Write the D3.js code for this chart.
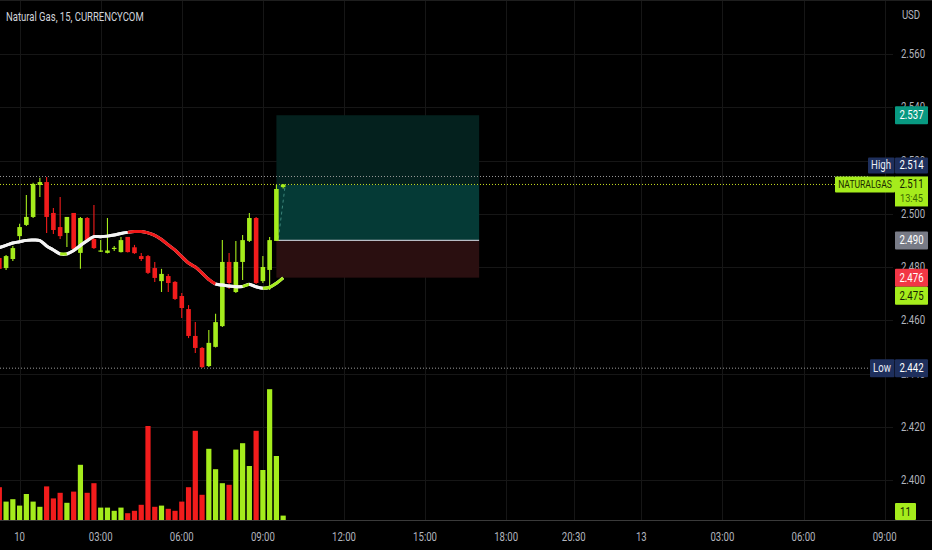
<!DOCTYPE html>
<html><head><meta charset="utf-8">
<script src="https://cdn.jsdelivr.net/npm/d3@7"></script>
<style>
html,body{margin:0;padding:0;background:#000;overflow:hidden;}
svg{display:block;}
text{font-family:Roboto,"Noto Sans",sans-serif;}
</style></head><body>
<svg id="c" width="932" height="550"></svg>
<script>
// ---------- DATA ----------
const title = "Natural Gas, 15, CURRENCYCOM";
const currency = "USD";
const firstIndex = -3; // bar index of first candle (0 = 10th 00:00)
const opens  = [2.4834,2.4796,2.4830,2.4916,2.4958,2.4988,2.5108,2.5119,2.5003,2.4950,2.4928,2.5003,2.4853,2.4984,2.4905,2.4860,2.4853,2.4870,2.4856,2.4913,2.4874,2.4841,2.4841,2.4796,2.4747,2.4766,2.4744,2.4691,2.4642,2.4541,2.4496,2.4428,2.4500,2.4578,2.4819,2.4706,2.4819,2.4898,2.4984,2.4747,2.4789,2.4898,2.5100];
const highs  = [2.4841,2.4845,2.4879,2.4962,2.5070,2.5116,2.5135,2.5138,2.5022,2.5063,2.4988,2.5003,2.4988,2.4988,2.5033,2.4901,2.4984,2.4879,2.4913,2.4913,2.4883,2.4853,2.4845,2.4819,2.4793,2.4774,2.4747,2.4702,2.4657,2.4593,2.4500,2.4563,2.4624,2.4901,2.4853,2.4898,2.4920,2.5003,2.4988,2.4841,2.4913,2.5108,2.5112];
const lows   = [2.4785,2.4789,2.4823,2.4901,2.4954,2.4984,2.5063,2.4928,2.4924,2.4905,2.4875,2.4868,2.4793,2.4894,2.4868,2.4856,2.4851,2.4860,2.4854,2.4854,2.4849,2.4823,2.4774,2.4744,2.4706,2.4706,2.4676,2.4608,2.4533,2.4477,2.4421,2.4424,2.4498,2.4575,2.4717,2.4702,2.4751,2.4894,2.4736,2.4740,2.4714,2.4898,2.5095];
const closes = [2.4793,2.4841,2.4871,2.4950,2.4988,2.5112,2.5119,2.4988,2.4939,2.4916,2.4988,2.4868,2.4984,2.4898,2.4871,2.4862,2.4862,2.4872,2.4901,2.4856,2.4852,2.4830,2.4778,2.4759,2.4774,2.4740,2.4680,2.4646,2.4541,2.4496,2.4424,2.4515,2.4593,2.4819,2.4740,2.4819,2.4901,2.4984,2.4740,2.4800,2.4901,2.5093,2.5110];
const volumes = [82,46,52,36,65,46,33,84,54,68,43,71,138,68,92,31,31,23,31,17,23,38,235,33,36,28,23,46,82,223,63,178,127,92,88,176,192,135,223,125,327,160,11];
const maValues = [2.4873,2.4881,2.4890,2.4895,2.4900,2.4901,2.4899,2.4879,2.4864,2.4849,2.4849,2.4862,2.4881,2.4899,2.4914,2.4914,2.4916,2.4920,2.4926,2.4930,2.4933,2.4933,2.4928,2.4919,2.4903,2.4883,2.4863,2.4839,2.4815,2.4800,2.4777,2.4753,2.4736,2.4732,2.4729,2.4726,2.4727,2.4735,2.4726,2.4720,2.4724,2.4739,2.4759];
// colour state of MA segment starting at each point: W white, G green, R red
const maStates = "WWWWWWWWWGWWWWWWWWWRRRRRRRRRRRRRWWWWGWWGGGG";
const timeTickIndex  = [0,12,24,36,48,60,72,82,92,104,116,128];
const timeTickLabels = ["10","03:00","06:00","09:00","12:00","15:00","18:00","20:30","13","03:00","06:00","09:00"];
const priceTicks = [2.40,2.42,2.44,2.46,2.48,2.50,2.52,2.54,2.56];
const symbolName = "NATURALGAS";
const lastPrice = 2.511, countdown = "13:45";
const highPrice = 2.514, lowPrice = 2.442;
const targetPrice = 2.537, entryPrice = 2.490, stopPrice = 2.476, maLast = 2.475;
const positionStartIndex = 38, positionEndIndex = 68;
const lastVolume = 11;

// ---------- STYLE ----------
const C = {
  bg:"#000000", grid:"#161616", text:"#b2b5be", up:"#a5ec1c", down:"#f21c1c",
  white:"#f4f4f4", teal:"#089981", navy:"#1e2f5c", gray:"#787b86", redLbl:"#f23645"
};
const W = 932, H = 550, plotRight = 893, plotBottom = 520;

const svg = d3.select("#c");
svg.append("rect").attr("width",W).attr("height",H).attr("fill",C.bg);

const x = d3.scaleLinear().domain([0,128]).range([19.6,884.6]);
const y = d3.scaleLinear().domain([2.40,2.56]).range([480,54]);
const yv = d3.scaleLinear().domain([0,1000]).range([plotBottom,120]);

const idx = opens.map((_,k)=>k+firstIndex);

// grid
const grid = svg.append("g");
grid.selectAll("line.h").data(priceTicks).join("line")
  .attr("x1",0).attr("x2",plotRight).attr("y1",d=>Math.round(y(d))+0.5).attr("y2",d=>Math.round(y(d))+0.5)
  .attr("stroke",C.grid);
grid.selectAll("line.v").data(timeTickIndex).join("line")
  .attr("y1",0).attr("y2",plotBottom).attr("x1",d=>Math.round(x(d))+0.5).attr("x2",d=>Math.round(x(d))+0.5)
  .attr("stroke",C.grid);
svg.append("line").attr("x1",0).attr("x2",W).attr("y1",0.5).attr("y2",0.5).attr("stroke","#1e1e1e");

// volume
const bw = 5.2;
svg.append("g").selectAll("rect").data(idx).join("rect")
  .attr("x",(d)=>x(d)-bw/2).attr("width",bw)
  .attr("y",(d,k)=>yv(volumes[k])).attr("height",(d,k)=>plotBottom-yv(volumes[k]))
  .attr("fill",(d,k)=>closes[k]>=opens[k]?C.up:C.down);

// position tool
const px0 = x(positionStartIndex), px1 = x(positionEndIndex);
svg.append("rect").attr("x",px0).attr("width",px1-px0).attr("y",y(targetPrice)).attr("height",y(lastPrice)-y(targetPrice)).attr("fill","#04211e");
svg.append("rect").attr("x",px0).attr("width",px1-px0).attr("y",y(lastPrice)).attr("height",y(entryPrice)-y(lastPrice)).attr("fill","#053a36");
svg.append("rect").attr("x",px0).attr("width",px1-px0).attr("y",y(entryPrice)).attr("height",y(stopPrice)-y(entryPrice)).attr("fill","#2a0f10");
svg.append("line").attr("x1",px0).attr("x2",px1).attr("y1",y(entryPrice)).attr("y2",y(entryPrice)).attr("stroke","#b8bcc4").attr("stroke-width",1.2);
svg.append("line").attr("x1",x(38)+2).attr("y1",y(entryPrice)-2).attr("x2",x(39)+2).attr("y2",y(lastPrice)+1)
  .attr("stroke","#5fb8a8").attr("stroke-width",1).attr("stroke-dasharray","3,3").attr("opacity",0.6);

// high / low / last dotted lines
svg.append("line").attr("x1",0).attr("x2",868).attr("y1",y(highPrice)).attr("y2",y(highPrice)).attr("stroke","#9a9a9a").attr("stroke-dasharray","1,2");
svg.append("line").attr("x1",0).attr("x2",868).attr("y1",y(lowPrice)).attr("y2",y(lowPrice)).attr("stroke","#9a9a9a").attr("stroke-dasharray","1,2");
svg.append("line").attr("x1",0).attr("x2",835).attr("y1",y(lastPrice)).attr("y2",y(lastPrice)).attr("stroke","#c8e020").attr("stroke-dasharray","1,2");

// candles
const cw = 4.6;
const cg = svg.append("g");
cg.selectAll("line").data(idx).join("line")
  .attr("x1",d=>x(d)).attr("x2",d=>x(d))
  .attr("y1",(d,k)=>y(highs[k])).attr("y2",(d,k)=>y(lows[k]))
  .attr("stroke",(d,k)=>closes[k]>=opens[k]?C.up:C.down).attr("stroke-width",1.1);
cg.selectAll("rect").data(idx).join("rect")
  .attr("x",d=>x(d)-cw/2).attr("width",cw)
  .attr("y",(d,k)=>y(Math.max(opens[k],closes[k])))
  .attr("height",(d,k)=>Math.max(1.2,Math.abs(y(opens[k])-y(closes[k]))))
  .attr("fill",(d,k)=>closes[k]>=opens[k]?C.up:C.down);

// moving average, coloured by state
const maPts = idx.map((d,k)=>[x(d),y(maValues[k])]);
const line = d3.line().curve(d3.curveCatmullRom);
const colorOf = {W:C.white,G:C.up,R:"#f01818"};
let runs = [], s = 0;
for (let k=1;k<maPts.length-1;k++){ if (maStates[k]!==maStates[s]){ runs.push([s,k,maStates[s]]); s=k; } }
runs.push([s,maPts.length-1,maStates[s]]);
svg.append("path").attr("d",line(maPts)).attr("fill","none").attr("stroke",C.white).attr("stroke-width",3);
runs.forEach(([a,b,st])=>{
  svg.append("path").attr("d",line(maPts.slice(a,b+1))).attr("fill","none")
    .attr("stroke",colorOf[st]).attr("stroke-width",3).attr("stroke-linecap","butt");
});

// bottom border
svg.append("line").attr("x1",0).attr("x2",W).attr("y1",plotBottom+0.5).attr("y2",plotBottom+0.5).attr("stroke","#3a3a3a");

// time axis
svg.append("g").selectAll("text").data(timeTickIndex).join("text")
  .attr("x",d=>x(d)).attr("y",541).attr("text-anchor","middle")
  .attr("fill",C.text).attr("font-size",12).text((d,k)=>timeTickLabels[k]);

// price axis ticks
svg.append("g").selectAll("text").data(priceTicks).join("text")
  .attr("x",913).attr("y",d=>y(d)+4).attr("text-anchor","middle")
  .attr("fill",C.text).attr("font-size",12).text(d=>d.toFixed(3));
svg.append("text").attr("x",911).attr("y",19).attr("text-anchor","middle").attr("fill",C.text).attr("font-size",12).text(currency);

// title
svg.append("text").attr("x",6).attr("y",21).attr("fill","#d1d4dc").attr("font-size",13).attr("data-f",0.73).text(title);

// right labels
function box(x0,x1,cy,h,bg){ svg.append("rect").attr("x",x0).attr("width",x1-x0).attr("y",cy-h/2).attr("height",h).attr("fill",bg).attr("rx",1); }
function txt(tx,ty,s,fill,size,anchor){ return svg.append("text").attr("x",tx).attr("y",ty).attr("fill",fill).attr("font-size",size||12).attr("text-anchor",anchor||"middle").text(s); }
const lx0 = 895, lx1 = 928, lc = 911.5;

let cy = y(targetPrice); box(lx0,lx1,cy,18,C.teal); txt(lc,cy+4,targetPrice.toFixed(3),"#fff");
cy = y(highPrice)-11; box(868,894.5,cy,16,C.navy); box(lx0,lx1,cy,16,C.navy);
txt(881,cy+4,"High","#e8ecf4"); txt(lc,cy+4,highPrice.toFixed(3),"#fff");
cy = y(lastPrice); box(835,895,cy,16,C.up); txt(865,cy+3.5,symbolName,"#1b2a00",11).attr("data-f",0.78);
svg.append("rect").attr("x",lx0).attr("width",lx1-lx0).attr("y",cy-8).attr("height",30).attr("fill",C.up);
txt(lc,cy+4,lastPrice.toFixed(3),"#142000"); txt(lc,cy+18,countdown,"#3d6a00",11.5);
cy = y(entryPrice); box(lx0,lx1,cy,18,C.gray); txt(lc,cy+4,entryPrice.toFixed(3),"#fff");
cy = y(stopPrice); box(lx0,lx1,cy,18,C.redLbl); txt(lc,cy+4,stopPrice.toFixed(3),"#fff");
cy = y(stopPrice)+18; box(lx0,lx1,cy,18,C.up); txt(lc,cy+4,maLast.toFixed(3),"#142000");
cy = y(lowPrice); box(870,894.5,cy,18,C.navy); box(lx0,lx1,cy,18,C.navy);
txt(882,cy+4,"Low","#e8ecf4"); txt(lc,cy+4,lowPrice.toFixed(3),"#fff");
cy = 511.5; box(lx0,916,cy,17,C.up); txt(905.5,cy+4,String(lastVolume),"#142000");

// narrow all texts horizontally (reference glyphs are condensed)
svg.selectAll("text").each(function(){
  const f = +(this.getAttribute("data-f") || 0.8);
  const w = this.getComputedTextLength();
  d3.select(this).attr("textLength", w*f).attr("lengthAdjust","spacingAndGlyphs");
});
</script>
</body></html>
